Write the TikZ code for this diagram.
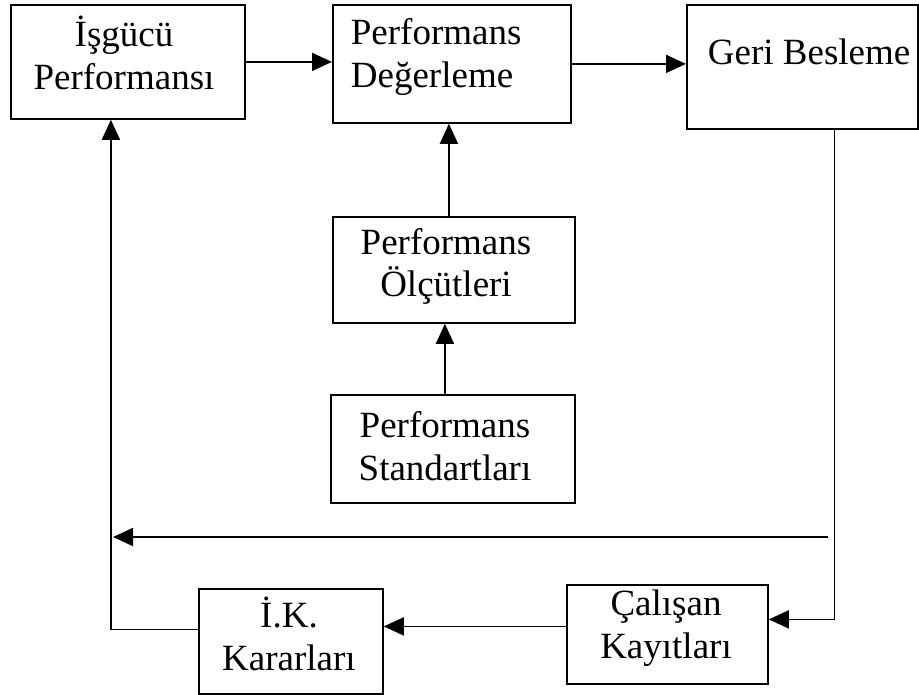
\documentclass[tikz,border=0pt]{standalone}
\usepackage{fontspec}
\setmainfont{Liberation Serif}
\usetikzlibrary{arrows.meta}
\begin{document}
\begin{tikzpicture}[x=1pt,y=-1pt,line width=1.8pt,
  box/.style={draw,rectangle,inner sep=0pt,anchor=north west},
  txt/.style={font=\fontsize{37}{43}\selectfont,inner sep=0pt,anchor=base,align=center},
  arr/.style={-{Triangle[length=20pt,width=18pt]},line width=1.8pt}]
\useasboundingbox (0,0) rectangle (919,695);
% boxes
\node[box,minimum width=234pt,minimum height=114pt] (b1) at (10,4) {};
\node[box,minimum width=238pt,minimum height=118pt] (b2) at (332,4) {};
\node[box,minimum width=231pt,minimum height=124pt] (b3) at (686,4) {};
\node[box,minimum width=242pt,minimum height=106pt] (b4) at (332,216) {};
\node[box,minimum width=244pt,minimum height=108pt] (b5) at (330,394) {};
\node[box,minimum width=201pt,minimum height=99pt] (b6) at (566,584) {};
\node[box,minimum width=184pt,minimum height=105pt] (b7) at (198,588) {};
% texts (base anchor = baseline of the last line)
\node[txt] (t1) at (124,90) {İşgücü\\Performansı};
\node[txt,anchor=base west,align=left] (t2) at (350,88) {Performans\\Değerleme};
\node[txt,anchor=base west] (t3) at (707,65) {Geri Besleme};
\node[txt] (t4) at (446,297) {Performans\\Ölçütleri};
\node[txt] (t5) at (445,480) {Performans\\Standartları};
\node[txt] (t6) at (666,658) {Çalışan\\Kayıtları};
\node[txt] (t7) at (289,670) {İ.K.\\Kararları};
% connectors
\draw[arr] (b1.east) -- (b1.east -| b2.west);
\draw[arr] (b2.east) -- (b2.east -| b3.west);
\draw[arr] ([xshift=-5pt]b4.north) -- ([xshift=-5pt]b4.north |- b2.south);
\draw[arr] ([xshift=-8pt]b5.north) -- ([xshift=-8pt]b5.north |- b4.south);
\draw[arr] ([xshift=32pt]b3.south) |- ([yshift=15pt]b6.east);
\draw[arr] ([yshift=8pt]b6.west) -- ([yshift=8pt]b6.west -| b7.east);
\draw[arr] ([yshift=12pt]b7.west) -| ([xshift=-17pt]b1.south);
\coordinate (fs) at (828,537);
\coordinate (fe) at (113,537);
\draw[arr] (fs) -- (fe);
\end{tikzpicture}
\end{document}
